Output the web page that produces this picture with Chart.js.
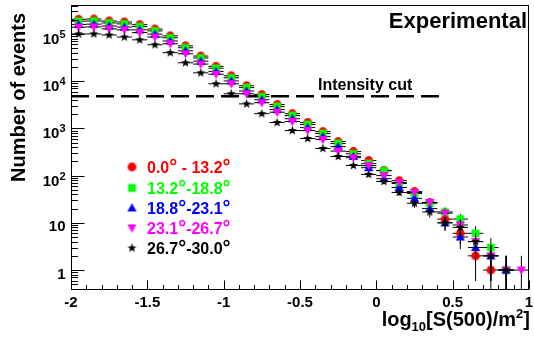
<!DOCTYPE html>
<html>
<head>
<meta charset="utf-8">
<script src="https://cdn.jsdelivr.net/npm/chart.js@4.4.0/dist/chart.umd.min.js"></script>
<style>
  html, body { margin: 0; padding: 0; background: #fff; }
  canvas { display: block; }
</style>
</head>
<body>
<canvas id="chart" width="534" height="350"></canvas>
<script>
// log10(S500) bin centres, bins are 0.1 wide
var binCenters = [-1.95, -1.85, -1.75, -1.65, -1.55, -1.45, -1.35, -1.25, -1.15, -1.05,
                  -0.95, -0.85, -0.75, -0.65, -0.55, -0.45, -0.35, -0.25, -0.15, -0.05,
                   0.05,  0.15,  0.25,  0.35,  0.45,  0.55,  0.65,  0.75,  0.85,  0.95];

// number of events per bin, one array per zenith band
var zen00_132 = [2.04e5, 2.07e5, 1.88e5, 1.79e5, 1.57e5, 1.27e5, 9.1e4, 5.6e4, 3.4e4, 2.06e4,
                 1.30e4, 8000, 5200, 3200, 2050, 1330, 856, 527, 324, 209,
                 129, 78, 46, 27, 12, 6, 2, 1, null, null];
var zen132_188 = [1.86e5, 1.88e5, 1.71e5, 1.63e5, 1.43e5, 1.16e5, 8.3e4, 5.1e4, 3.1e4, 1.88e4,
                  1.18e4, 7300, 4700, 2900, 1870, 1210, 780, 480, 290, 179,
                  127, 68, 42, 26, 17, 12, 6, 3, 1, null];
var zen188_231 = [1.59e5, 1.61e5, 1.47e5, 1.40e5, 1.22e5, 9.9e4, 7.1e4, 4.4e4, 2.65e4, 1.61e4,
                  1.01e4, 6200, 4050, 2500, 1600, 1040, 670, 410, 255, 147,
                  86, 56, 33, 20, 10, 5, 3, 2, 1, null];
var zen231_267 = [1.39e5, 1.41e5, 1.28e5, 1.22e5, 1.07e5, 8.6e4, 6.2e4, 3.8e4, 2.3e4, 1.40e4,
                  8800, 5400, 3500, 2200, 1400, 900, 580, 330, 239, 163,
                  100, 71, 44, 27, 16, 9, 4, 2, 1, 1];
var zen267_300 = [1.0e5, 1.0e5, 9.5e4, 8.6e4, 7.5e4, 5.9e4, 4.0e4, 2.45e4, 1.5e4, 8800,
                  5400, 3300, 2050, 1330, 899, 609, 375, 254, 164, 106,
                  75, 44, 26, 17, 10, 8, 4, 2, 1, null];

var bandLabels = ["0.0° - 13.2°", "13.2°-18.8°", "18.8°-23.1°", "23.1°-26.7°", "26.7°-30.0°"];
var bandColors = ["#ff0000", "#00ff00", "#0000ff", "#ff00ff", "#000000"];
var bandMarkers = ["circle", "square", "up", "down", "star"];

// intensity cut level and where the dashed line stops
var cutLevel = 4800;
var cutEnd = 0.42;

var xTicks = [-2, -1.5, -1, -0.5, 0, 0.5, 1];
var xTickLabels = ["-2", "-1.5", "-1", "-0.5", "0", "0.5", "1"];
var yDecades = [0, 1, 2, 3, 4, 5];

var halfBin = 0.05;
var FONT = '"Liberation Sans", Arial, Helvetica, sans-serif';

// small canvases used as point styles
function makeMarker(kind, color) {
  var c = document.createElement("canvas");
  c.width = 15;
  c.height = 15;
  var g = c.getContext("2d");
  var cx = 7.5, cy = 7.5;
  g.fillStyle = color;
  g.beginPath();
  if (kind === "circle") {
    g.arc(cx, cy, 4.4, 0, Math.PI * 2);
  } else if (kind === "square") {
    g.rect(cx - 3.9, cy - 3.9, 7.8, 7.8);
  } else if (kind === "up") {
    g.moveTo(cx, cy - 4.8);
    g.lineTo(cx + 4.6, cy + 3.6);
    g.lineTo(cx - 4.6, cy + 3.6);
  } else if (kind === "down") {
    g.moveTo(cx, cy + 4.8);
    g.lineTo(cx + 4.6, cy - 3.6);
    g.lineTo(cx - 4.6, cy - 3.6);
  } else {
    for (var i = 0; i < 10; i++) {
      var r = i % 2 === 0 ? 4.8 : 2.0;
      var a = -Math.PI / 2 + i * Math.PI / 5;
      var px = cx + r * Math.cos(a), py = cy + r * Math.sin(a);
      if (i === 0) g.moveTo(px, py); else g.lineTo(px, py);
    }
  }
  g.closePath();
  g.fill();
  return c;
}

var markerImgs = bandMarkers.map(function (m, i) { return makeMarker(m, bandColors[i]); });

function toPoints(values) {
  var pts = [];
  values.forEach(function (v, i) {
    if (v !== null) pts.push({ x: binCenters[i], y: v });
  });
  return pts;
}

var series = [zen00_132, zen132_188, zen188_231, zen231_267, zen267_300];

var datasets = series.map(function (vals, i) {
  return {
    label: bandLabels[i],
    data: toPoints(vals),
    pointStyle: markerImgs[i],
    pointRadius: 4,
    showLine: false,
    withErrors: true,
    order: 5 - i
  };
});

datasets.push({
  label: "Intensity cut",
  data: [{ x: -2, y: cutLevel }, { x: cutEnd, y: cutLevel }],
  showLine: true,
  borderColor: "#000",
  borderWidth: 2.5,
  borderDash: [18, 7],
  pointRadius: 0,
  order: 10
});

// sqrt(N) vertical bars and bin-width horizontal bars, drawn just before each series
var errorBars = {
  id: "errorBars",
  beforeDatasetDraw: function (chart, args) {
    var ds = chart.data.datasets[args.index];
    if (!ds.withErrors) return;
    var xs = chart.scales.x, ys = chart.scales.y, a = chart.chartArea, ctx = chart.ctx;
    ctx.save();
    ctx.beginPath();
    ctx.rect(a.left, a.top, a.right - a.left, a.bottom - a.top);
    ctx.clip();
    ctx.strokeStyle = "#000";
    ctx.lineWidth = 1;
    ds.data.forEach(function (p) {
      var err = Math.sqrt(p.y);
      var lo = Math.max(p.y - err, ys.min);
      var px = xs.getPixelForValue(p.x), py = ys.getPixelForValue(p.y);
      ctx.beginPath();
      ctx.moveTo(xs.getPixelForValue(p.x - halfBin), py);
      ctx.lineTo(xs.getPixelForValue(p.x + halfBin), py);
      ctx.moveTo(px, ys.getPixelForValue(p.y + err));
      ctx.lineTo(px, ys.getPixelForValue(lo));
      ctx.stroke();
    });
    ctx.restore();
  }
};

function drawDegreeText(ctx, text, x, baseline, size) {
  var parts = text.split("°");
  var cur = x;
  parts.forEach(function (part, i) {
    ctx.font = "bold " + size + "px " + FONT;
    ctx.fillText(part, cur, baseline);
    cur += ctx.measureText(part).width;
    if (i < parts.length - 1) {
      ctx.font = "bold " + Math.round(size * 1.25) + "px " + FONT;
      ctx.fillText("°", cur, baseline);
      cur += ctx.measureText("°").width;
    }
  });
}

// frame, inward ticks, labels, titles and the legend
var decorations = {
  id: "decorations",
  afterDraw: function (chart) {
    var ctx = chart.ctx, a = chart.chartArea;
    var xs = chart.scales.x, ys = chart.scales.y;
    ctx.save();
    ctx.strokeStyle = "#000";
    ctx.fillStyle = "#000";
    ctx.lineWidth = 1;

    ctx.strokeRect(Math.round(a.left) + 0.5, Math.round(a.top) + 0.5,
                   Math.round(a.right - a.left) - 1, Math.round(a.bottom - a.top) - 1);

    var bottom = Math.round(a.bottom) - 0.5;
    var left = Math.round(a.left) + 0.5;

    // x ticks
    ctx.beginPath();
    for (var i = 0; i <= 30; i++) {
      var v = -2 + i * 0.1;
      var px = Math.round(xs.getPixelForValue(v)) + 0.5;
      var len = (i % 5 === 0) ? 9 : 4.5;
      ctx.moveTo(px, bottom);
      ctx.lineTo(px, bottom - len);
    }
    // y ticks
    for (var d = -1; d <= 5; d++) {
      for (var m = 1; m <= 9; m++) {
        var val = m * Math.pow(10, d);
        if (val < ys.min || val > ys.max) continue;
        var py = Math.round(ys.getPixelForValue(val)) + 0.5;
        ctx.moveTo(left, py);
        ctx.lineTo(left + (m === 1 ? 13 : 6.5), py);
      }
    }
    ctx.stroke();

    // x tick labels
    ctx.font = "bold 15px " + FONT;
    ctx.textAlign = "center";
    ctx.textBaseline = "alphabetic";
    xTicks.forEach(function (t, i) {
      ctx.fillText(xTickLabels[i], xs.getPixelForValue(t), 306.5);
    });

    // y tick labels, powers of ten
    var labelRight = 65.5;
    yDecades.forEach(function (e) {
      var py = ys.getPixelForValue(Math.pow(10, e));
      ctx.textAlign = "left";
      ctx.font = "bold 15px " + FONT;
      if (e === 0 || e === 1) {
        var s = e === 0 ? "1" : "10";
        ctx.fillText(s, labelRight - ctx.measureText(s).width, py + 8.5);
      } else {
        var wBase = ctx.measureText("10").width;
        ctx.font = "bold 11px " + FONT;
        var wExp = ctx.measureText(String(e)).width;
        ctx.fillText(String(e), labelRight - wExp, py + 4);
        ctx.font = "bold 15px " + FONT;
        ctx.fillText("10", labelRight - wExp - wBase, py + 10);
      }
    });

    // x title: log10[S(500)/m2]
    var parts = [
      { t: "log", s: 20, dy: 0 },
      { t: "10", s: 13, dy: 5 },
      { t: "[S(500)/m", s: 20, dy: 0 },
      { t: "2", s: 13, dy: -8 },
      { t: "]", s: 20, dy: 0 }
    ];
    var total = 0;
    parts.forEach(function (p) {
      ctx.font = "bold " + p.s + "px " + FONT;
      p.w = ctx.measureText(p.t).width;
      total += p.w;
    });
    var cx = 530 - total;
    ctx.textAlign = "left";
    parts.forEach(function (p) {
      ctx.font = "bold " + p.s + "px " + FONT;
      ctx.fillText(p.t, cx, 326 + p.dy);
      cx += p.w;
    });

    // y title
    ctx.save();
    ctx.translate(25, 13);
    ctx.rotate(-Math.PI / 2);
    ctx.font = "bold 20px " + FONT;
    ctx.textAlign = "right";
    ctx.fillText("Number of events", 0, 0);
    ctx.restore();

    // header and cut label
    ctx.font = "bold 22px " + FONT;
    ctx.textAlign = "right";
    ctx.fillText("Experimental", 527, 28);
    ctx.font = "bold 16px " + FONT;
    ctx.textAlign = "left";
    ctx.fillText("Intensity cut", 318, 90);

    // legend
    var rows = [167, 188, 208, 228, 248];
    bandLabels.forEach(function (lab, i) {
      var img = markerImgs[i];
      ctx.drawImage(img, 132 - img.width / 2, rows[i] - img.height / 2);
      ctx.fillStyle = bandColors[i];
      ctx.textAlign = "left";
      drawDegreeText(ctx, lab, 147, rows[i] + 6, 16);
    });

    ctx.restore();
  }
};

var ctx = document.getElementById("chart").getContext("2d");
var chart = new Chart(ctx, {
  type: "scatter",
  data: { datasets: datasets },
  options: {
    responsive: false,
    animation: false,
    devicePixelRatio: 1,
    layout: { padding: { top: 4, right: 3, left: 0, bottom: 0 } },
    plugins: {
      legend: { display: false },
      tooltip: { enabled: false }
    },
    scales: {
      x: {
        type: "linear",
        min: -2,
        max: 1,
        grid: { display: false },
        border: { display: false },
        ticks: { display: false },
        afterFit: function (s) { s.height = 60; }
      },
      y: {
        type: "logarithmic",
        min: 0.378,
        max: 4.1e5,
        grid: { display: false },
        border: { display: false },
        ticks: { display: false },
        afterFit: function (s) { s.width = 71; }
      }
    }
  },
  plugins: [errorBars, decorations]
});
</script>
</body>
</html>
